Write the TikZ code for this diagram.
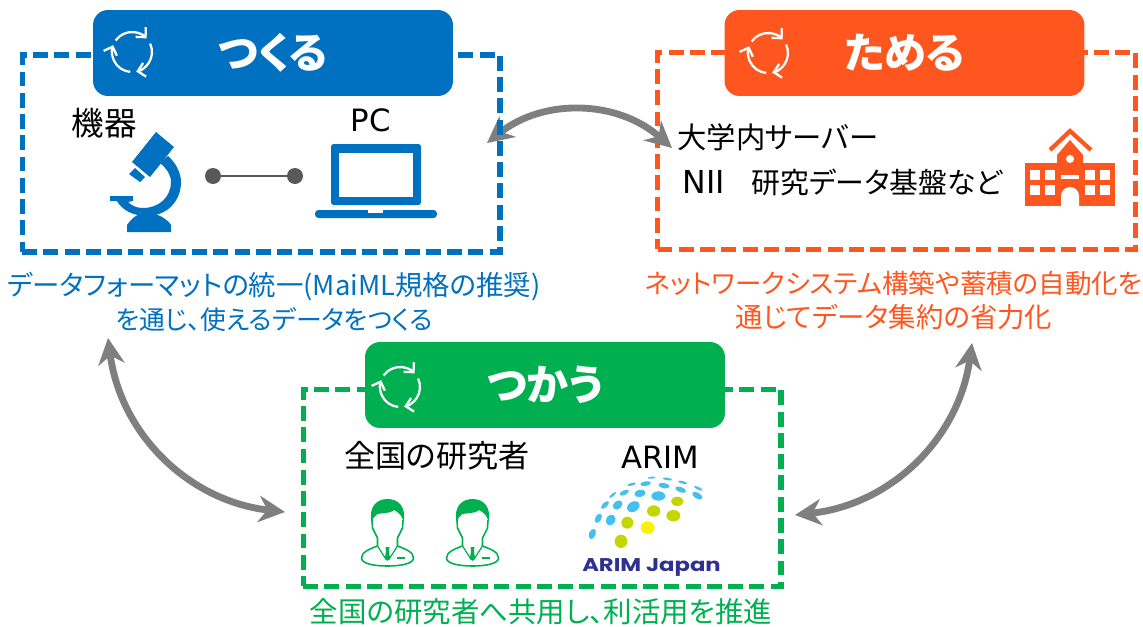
\documentclass[tikz,border=0pt]{standalone}
\usepackage{fontspec}
\setmainfont[RawFeature={+palt}]{Noto Sans CJK JP}
\newfontfamily\logofont{Poppins}
\newfontfamily\latinfont{DejaVu Sans}
\usepackage{tikz}
\usetikzlibrary{arrows.meta}
\usetikzlibrary{positioning}

\definecolor{tsukuruc}{HTML}{0070C0}
\definecolor{tameruc}{HTML}{FF5620}
\definecolor{tsukauc}{HTML}{00B050}
\definecolor{arrowc}{HTML}{7F7F7F}
\definecolor{dotc}{HTML}{595959}
\definecolor{skyc}{HTML}{45BFEF}
\definecolor{olivec}{HTML}{C4D600}
\definecolor{yellowc}{HTML}{FFF000}
\definecolor{logoc}{HTML}{2E3192}

\tikzset{
    dashbox/.style={draw=#1, line width=2.9pt, dash pattern=on 8.5pt off 3.6pt, minimum width=9.56cm, minimum height=3.94cm, inner sep=0pt},
    headbox/.style={fill=#1, text=white, rounded corners=0.3cm, minimum width=7.2cm, minimum height=1.72cm, font=\fontsize{24}{24}\selectfont\bfseries, inner sep=0pt},
    label/.style={font=\fontsize{17.7}{20}\selectfont, text=black, inner sep=0pt},
    caption/.style={text=#1, font=\fontsize{15.6}{19.4}\selectfont, align=center, inner sep=0pt},
    bigarrow/.style={arrowc, line width=3.9pt, {Stealth[length=15pt,width=15pt]}-{Stealth[length=15pt,width=15pt]}},
    linkdot/.style={circle, fill=dotc, minimum size=0.32cm, inner sep=0pt},
    cycleline/.style={white, line width=1.3pt, -{Straight Barb[length=4pt,width=8pt]}}
}

\begin{document}
\begin{tikzpicture}[x=0.02cm, y=-0.02cm]
    \useasboundingbox (0,0) rectangle (1143,626);

    % frames
    \node[dashbox=tameruc] (tamerubox) at (896.5,151) {};
    \node[dashbox=tsukauc] (tsukaubox) at (542,488) {};

    % arrows between the frames
    \coordinate (arrowa) at (487,143);
    \coordinate (arrowb) at (672,148);
    \coordinate (arrowc) at (108,338);
    \coordinate (arrowd) at (285,512);
    \coordinate (arrowe) at (972,343);
    \coordinate (arrowf) at (795,515);
    \draw[bigarrow] (arrowa) to [bend left=40] (arrowb);
    \draw[bigarrow] (arrowc) to [bend right=38] (arrowd);
    \draw[bigarrow] (arrowe) to [bend left=38] (arrowf);

    \node[dashbox=tsukuruc] (tsukurubox) at (261,153.5) {};

    % headers
    \node[headbox=tsukuruc] (tsukuru) at (273,53) {つくる};
    \node[headbox=tameruc] (tameru) at (904.5,53) {ためる};
    \node[headbox=tsukauc] (tsukau) at (545,385) {つかう};
    \foreach \cx/\cy in {132/52,768/53,400/387}
    {
        \begin{scope}[shift={(\cx,\cy)}]
            \draw[cycleline] (95:20) arc[start angle=95, end angle=200, radius=20];
            \draw[cycleline] (215:20) arc[start angle=215, end angle=317, radius=20];
            \draw[cycleline] (335:20) arc[start angle=335, end angle=438, radius=20];
        \end{scope}
    }

    % labels
    \node[label, font=\fontsize{18.5}{20}\selectfont] (kiki) at (104,123) {機器};
    \node[label, font=\latinfont\fontsize{17.5}{20}\selectfont] (pc) at (371,120) {PC};
    \node[label, anchor=west, font=\fontsize{16.7}{20}\selectfont] (server) at (677,137) {大学内サーバー};
    \node[label, anchor=west, font=\fontsize{16.4}{20}\selectfont] (nii) at (682,182) {{\latinfont\fontsize{18}{20}\selectfont NII}\hspace{15.3pt}研究データ基盤など};
    \node[label] (kenkyusha) at (437,456) {全国の研究者};
    \node[label, font=\latinfont\fontsize{17.5}{20}\selectfont] (arim) at (660,457) {ARIM};
    \node[caption=tsukuruc] (captiona) at (274,302) {データフォーマットの統一(MaiML規格の推奨)\\{\fontsize{14.7}{19.4}\selectfont を通じ、使えるデータをつくる}};
    \node[caption=tameruc] (captionb) at (894,300) {{\fontsize{15.1}{19.4}\selectfont ネットワークシステム構築や蓄積の自動化を}\\通じてデータ集約の省力化};
    \node[caption=tsukauc, font=\fontsize{16.2}{19.4}\selectfont] (captionc) at (541,612) {全国の研究者へ共用し、利活用を推進};

    % link between microscope and laptop
    \node[linkdot] (dotl) at (213,176) {};
    \node[linkdot] (dotr) at (295,176) {};
    \draw[dotc, line width=1.3pt] (dotl) -- (dotr);

    % microscope
    \fill[tsukuruc] (156,132) -- (174,147) -- (150,177) -- (132,162) -- cycle;
    \fill[tsukuruc] (135,168) -- (145,177) -- (140,182) -- (129,174) -- cycle;
    \fill[tsukuruc] (168,156) .. controls (176,163) and (181,173) .. (181,182)
        .. controls (181,202) and (166,216) .. (147,216)
        .. controls (133,216) and (122,210) .. (117,201) -- (110,201) -- (110,196) -- (133,196) -- (133,201) -- (128,202)
        .. controls (132,206) and (137,208) .. (143,208)
        .. controls (159,208) and (171,197) .. (171,182)
        .. controls (171,174) and (166,168) .. (160,163) -- cycle;
    \fill[tsukuruc] (127,232) -- (127,225) .. controls (131,219) and (137,213) .. (147,213)
        .. controls (158,213) and (167,219) .. (171,225) -- (171,232) -- cycle;

    % laptop
    \fill[tsukuruc, rounded corners=1.5pt] (331,205) -- (331,144) -- (421,144) -- (421,205) -- cycle;
    \fill[white] (339,153) rectangle (413,197);
    \fill[tsukuruc, rounded corners=2pt] (315,210) -- (437,210) -- (437,218) -- (315,218) -- cycle;
    \fill[white] (368,210) rectangle (383,213);

    % school
    \fill[tameruc] (1025,163) rectangle (1115,206);
    \fill[tameruc] (1057,165) -- (1057,155) -- (1070,140) -- (1083,155) -- (1083,165) -- cycle;
    \draw[tameruc, line width=2.4pt] (1050,150) -- (1070,131) -- (1091,150);
    \fill[white] (1070,159) circle (4);
    \foreach \wx in {1030,1045,1085,1100}
    {
        \foreach \wy in {170,185}
        {
            \fill[white] (\wx,\wy) rectangle ++(10,9.5);
        }
    }
    \fill[white] (1061,175) rectangle (1079,178.5);
    \fill[white] (1061,206) -- (1061,196) arc[start angle=180, end angle=360, radius=9] -- (1079,206) -- cycle;

    % researchers
    \foreach \px in {387.5,472.5}
    {
        \begin{scope}[shift={(\px,0)}]
            \fill[tsukauc] (-16,522) .. controls (-19,507) and (-11,499) .. (0,499)
                .. controls (11,499) and (19,507) .. (16,522)
                .. controls (15,517) and (13,514) .. (7,510)
                .. controls (2,514) and (-7,513) .. (-10,514)
                .. controls (-13,516) and (-15,519) .. (-16,522) -- cycle;
            \draw[tsukauc, line width=0.9pt] (-15.5,520) -- (-15,528) -- (-10,538) -- (-10,546)
                .. controls (-18,549) and (-26,552) .. (-26,558)
                .. controls (-26,564) and (-12,566) .. (0,566)
                .. controls (12,566) and (26,564) .. (26,558)
                .. controls (26,552) and (18,549) .. (10,546) -- (10,538) -- (15,528) -- (15.5,520);
            \draw[tsukauc, line width=0.7pt] (-10,546) -- (-1,560);
            \draw[tsukauc, line width=0.7pt] (10,546) -- (1,560);
            \fill[tsukauc] (-2,547) -- (2,547) -- (1.5,551) -- (2.5,558) -- (0,561) -- (-2.5,558) -- (-1.5,551) -- cycle;
            \draw[tsukauc, line width=0.9pt] (9,558) -- (17,558);
        \end{scope}
    }

    % logo
    \begin{scope}[shift={(290,340)}, x=0.00667cm, y=-0.00667cm]
        \foreach \lx/\ly/\rx/\ry/\ra in {907/582/16/10/110,925/535/15/9/120,962/540/17/14/120,945/495/15/7/135,983/495/16/12/140,1030/500/20/15/150,968/465/13/4/140,1003/458/15/7/155,1050/460/17/11/170,1105/468/21/14/0,1025/433/13/4/165,1067/431/16/7/170,1122/437/17/8/10,1172/449/17/8/20,1222/467/17/9/30,1085/413/12/3/175,1132/417/14/4/10,1178/427/14/4/15,1225/445/14/4/25}
        {
            \fill[skyc, rotate around={-\ra:(\lx,\ly)}] (\lx,\ly) ellipse[x radius=\rx, y radius=\ry];
        }
        \foreach \lx/\ly/\rx/\ry in {1162/484/19/14,1091/513/20/17,1150/527/21/17,1012/548/18/18,993/604/19/20}
        {
            \fill[olivec] (\lx,\ly) ellipse[x radius=\rx, y radius=\ry];
        }
        \fill[yellowc] (1073,563) ellipse[x radius=21, y radius=19];
    \end{scope}
    \node[text=logoc, inner sep=0pt, font=\logofont\bfseries\fontsize{10.5}{11}\selectfont] (logotext) at (651.5,567.5) {\scalebox{1.23}[1]{ARIM Japan}};
\end{tikzpicture}
\end{document}
